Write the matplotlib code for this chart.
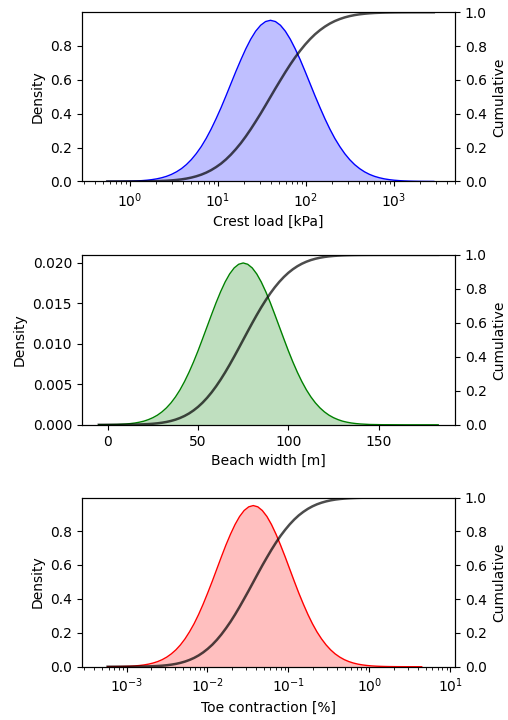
import numpy as np
import matplotlib
matplotlib.use("Agg")
import matplotlib.pyplot as plt

# Crest load: positions given as log10(kPa)
crest_log10 = [-0.256, -0.200, -0.144, -0.088, -0.031, 0.025, 0.081, 0.138, 0.194, 0.250,
               0.306, 0.363, 0.419, 0.475, 0.531, 0.588, 0.644, 0.700, 0.756, 0.813,
               0.869, 0.925, 0.981, 1.038, 1.094, 1.150, 1.206, 1.263, 1.319, 1.375,
               1.431, 1.488, 1.544, 1.600, 1.656, 1.713, 1.769, 1.825, 1.881, 1.938,
               1.994, 2.050, 2.106, 2.163, 2.219, 2.275, 2.331, 2.388, 2.444, 2.500,
               2.556, 2.613, 2.669, 2.725, 2.781, 2.838, 2.894, 2.950, 3.006, 3.063,
               3.119, 3.175, 3.231, 3.288, 3.344, 3.400, 3.456]
crest_pdf = [0.0002, 0.0003, 0.0005, 0.0008, 0.0013, 0.0021, 0.0032, 0.0048, 0.0072, 0.0106,
             0.0152, 0.0217, 0.0303, 0.0417, 0.0566, 0.0756, 0.0994, 0.1286, 0.1638, 0.2055,
             0.2537, 0.3084, 0.3691, 0.4349, 0.5045, 0.5762, 0.6478, 0.7171, 0.7815, 0.8384,
             0.8855, 0.9208, 0.9426, 0.9500, 0.9426, 0.9208, 0.8855, 0.8384, 0.7815, 0.7171,
             0.6478, 0.5762, 0.5045, 0.4349, 0.3691, 0.3084, 0.2537, 0.2055, 0.1638, 0.1286,
             0.0994, 0.0756, 0.0566, 0.0417, 0.0303, 0.0217, 0.0152, 0.0106, 0.0072, 0.0048,
             0.0032, 0.0021, 0.0013, 0.0008, 0.0005, 0.0003, 0.0002]
crest_cdf = [0.00002, 0.00003, 0.00005, 0.00009, 0.00014, 0.00023, 0.00037, 0.00058, 0.00089,
             0.00135, 0.0020, 0.0030, 0.0043, 0.0062, 0.0088, 0.0122, 0.0168, 0.0228, 0.0304,
             0.0401, 0.0521, 0.0668, 0.0846, 0.1056, 0.1303, 0.1587, 0.1908, 0.2266, 0.2660,
             0.3085, 0.3538, 0.4013, 0.4503, 0.5000, 0.5497, 0.5987, 0.6462, 0.6915, 0.7340,
             0.7734, 0.8092, 0.8413, 0.8697, 0.8944, 0.9154, 0.9332, 0.9479, 0.9599, 0.9696,
             0.9772, 0.9832, 0.9878, 0.9912, 0.9938, 0.9957, 0.9970, 0.9980, 0.99865, 0.99911,
             0.99942, 0.99963, 0.99977, 0.99986, 0.99991, 0.99995, 0.99997, 0.99998]

# Beach width [m]
beach_x = [-5, -2.5, 0, 2.5, 5, 7.5, 10, 12.5, 15, 17.5, 20, 22.5, 25, 27.5, 30, 32.5, 35,
           37.5, 40, 42.5, 45, 47.5, 50, 52.5, 55, 57.5, 60, 62.5, 65, 67.5, 70, 72.5, 75,
           77.5, 80, 82.5, 85, 87.5, 90, 92.5, 95, 97.5, 100, 102.5, 105, 107.5, 110, 112.5,
           115, 117.5, 120, 122.5, 125, 127.5, 130, 132.5, 135, 137.5, 140, 142.5, 145, 147.5,
           150, 152.5, 155, 165, 175, 183]
beach_pdf = [0.00001, 0.00001, 0.00002, 0.00003, 0.00004, 0.00007, 0.00010, 0.00015, 0.00022,
             0.00032, 0.00045, 0.00064, 0.00088, 0.00119, 0.00159, 0.00209, 0.00270, 0.00344,
             0.00431, 0.00533, 0.00648, 0.00775, 0.00913, 0.01060, 0.01210, 0.01360, 0.01506,
             0.01641, 0.01761, 0.01860, 0.01934, 0.01979, 0.01995, 0.01979, 0.01934, 0.01860,
             0.01761, 0.01641, 0.01506, 0.01360, 0.01210, 0.01060, 0.00913, 0.00775, 0.00648,
             0.00533, 0.00431, 0.00344, 0.00270, 0.00209, 0.00159, 0.00119, 0.00088, 0.00064,
             0.00045, 0.00032, 0.00022, 0.00015, 0.00010, 0.00007, 0.00004, 0.00003, 0.00002,
             0.00001, 0.00001, 0.0, 0.0, 0.0]
beach_cdf = [0.00003, 0.00005, 0.00009, 0.00014, 0.00023, 0.00037, 0.00058, 0.00089, 0.00135,
             0.0020, 0.0030, 0.0043, 0.0062, 0.0088, 0.0122, 0.0168, 0.0228, 0.0304, 0.0401,
             0.0521, 0.0668, 0.0846, 0.1056, 0.1303, 0.1587, 0.1908, 0.2266, 0.2660, 0.3085,
             0.3538, 0.4013, 0.4503, 0.5000, 0.5497, 0.5987, 0.6462, 0.6915, 0.7340, 0.7734,
             0.8092, 0.8413, 0.8697, 0.8944, 0.9154, 0.9332, 0.9479, 0.9599, 0.9696, 0.9772,
             0.9832, 0.9878, 0.9912, 0.9938, 0.9957, 0.9970, 0.9980, 0.99865, 0.99911, 0.99942,
             0.99963, 0.99977, 0.99986, 0.99991, 0.99995, 0.99997, 1.0, 1.0, 1.0]

# Toe contraction: positions given as log10(%)
toe_log10 = [-3.234, -3.178, -3.122, -3.065, -3.009, -2.953, -2.897, -2.840, -2.784, -2.728,
             -2.672, -2.615, -2.559, -2.503, -2.447, -2.390, -2.334, -2.278, -2.222, -2.165,
             -2.109, -2.053, -1.997, -1.940, -1.884, -1.828, -1.772, -1.715, -1.659, -1.603,
             -1.547, -1.490, -1.434, -1.378, -1.322, -1.265, -1.209, -1.153, -1.097, -1.040,
             -0.984, -0.928, -0.872, -0.815, -0.759, -0.703, -0.647, -0.590, -0.534, -0.478,
             -0.422, -0.365, -0.309, -0.253, -0.197, -0.140, -0.084, -0.028, 0.028, 0.085,
             0.141, 0.197, 0.253, 0.310, 0.366, 0.422, 0.478, 0.535, 0.591, 0.647]
toe_pdf = [0.0003, 0.0005, 0.0008, 0.0013, 0.0021, 0.0032, 0.0048, 0.0072, 0.0106, 0.0152,
           0.0217, 0.0303, 0.0417, 0.0566, 0.0756, 0.0994, 0.1286, 0.1638, 0.2055, 0.2537,
           0.3084, 0.3691, 0.4349, 0.5045, 0.5762, 0.6478, 0.7171, 0.7815, 0.8384, 0.8855,
           0.9208, 0.9426, 0.9500, 0.9426, 0.9208, 0.8855, 0.8384, 0.7815, 0.7171, 0.6478,
           0.5762, 0.5045, 0.4349, 0.3691, 0.3084, 0.2537, 0.2055, 0.1638, 0.1286, 0.0994,
           0.0756, 0.0566, 0.0417, 0.0303, 0.0217, 0.0152, 0.0106, 0.0072, 0.0048, 0.0032,
           0.0021, 0.0013, 0.0008, 0.0005, 0.0003, 0.0002, 0.0001, 0.0001, 0.0, 0.0]
toe_cdf = [0.00003, 0.00005, 0.00009, 0.00014, 0.00023, 0.00037, 0.00058, 0.00089, 0.00135,
           0.0020, 0.0030, 0.0043, 0.0062, 0.0088, 0.0122, 0.0168, 0.0228, 0.0304, 0.0401,
           0.0521, 0.0668, 0.0846, 0.1056, 0.1303, 0.1587, 0.1908, 0.2266, 0.2660, 0.3085,
           0.3538, 0.4013, 0.4503, 0.5000, 0.5497, 0.5987, 0.6462, 0.6915, 0.7340, 0.7734,
           0.8092, 0.8413, 0.8697, 0.8944, 0.9154, 0.9332, 0.9479, 0.9599, 0.9696, 0.9772,
           0.9832, 0.9878, 0.9912, 0.9938, 0.9957, 0.9970, 0.9980, 0.99865, 0.99911, 0.99942,
           0.99963, 0.99977, 0.99986, 0.99991, 0.99995, 0.99997, 0.99998, 0.99999, 1.0, 1.0,
           1.0]

crest_x = 10 ** np.array(crest_log10)
toe_x = 10 ** np.array(toe_log10)

panels = [
    (crest_x, crest_pdf, crest_cdf, "blue", "Crest load [kPa]", True, (0.285, 5000)),
    (beach_x, beach_pdf, beach_cdf, "green", "Beach width [m]", False, None),
    (toe_x, toe_pdf, toe_cdf, "red", "Toe contraction [%]", True, (2.8e-4, 11.5)),
]

fig = plt.figure(figsize=(5.08, 7.2), dpi=100)
boxes = [(0.161, 0.748, 0.735, 0.235),
         (0.161, 0.410, 0.735, 0.236),
         (0.161, 0.074, 0.735, 0.235)]

for box, (x, pdf, cdf, color, label, logx, xlim) in zip(boxes, panels):
    ax = fig.add_axes(box)
    ax.plot(x, pdf, color=color, lw=1)
    ax.fill_between(x, pdf, color=color, alpha=0.25, lw=0)
    if logx:
        ax.set_xscale("log")
    if xlim is not None:
        ax.set_xlim(*xlim)
    ax.set_ylim(bottom=0)
    ax.set_ylabel("Density")
    ax.set_xlabel(label)

    ax2 = ax.twinx()
    ax2.plot(x, cdf, color="black", alpha=0.7, lw=1.8)
    ax2.set_ylim(0, 1)
    ax2.set_ylabel("Cumulative")

fig.savefig("out.png", dpi=100)
